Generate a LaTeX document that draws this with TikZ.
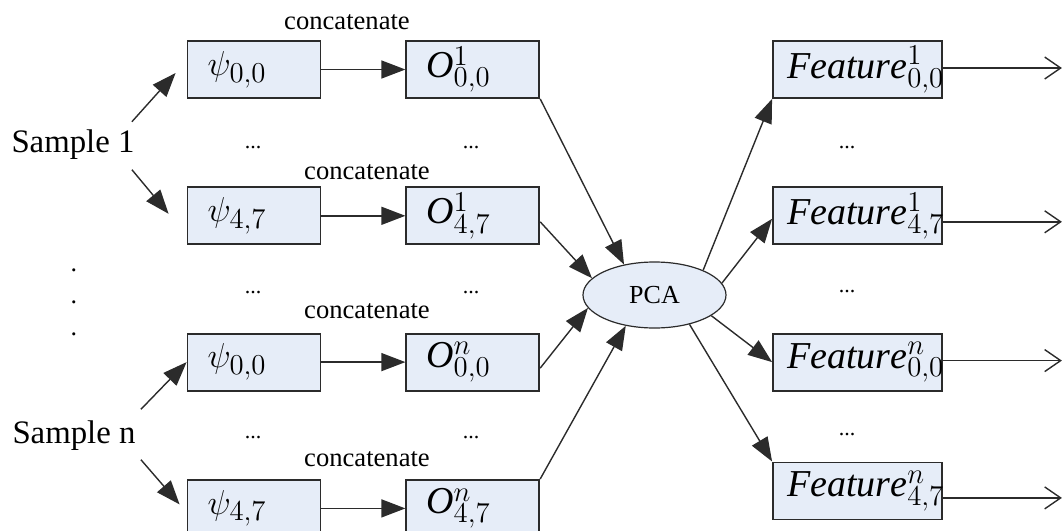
\documentclass[tikz,border=0pt]{standalone}
\usepackage{fontspec}
\setmainfont{Liberation Serif}
\usepackage{tikz}
\usetikzlibrary{arrows.meta,positioning,calc,shapes.geometric}
\definecolor{BoxFill}{HTML}{E6EDF8}
\definecolor{EdgeGray}{HTML}{2B2B2B}

\begin{document}
\begin{tikzpicture}[x=1pt,y=1pt,node distance=43.75pt and 42pt,
 box/.style={draw=EdgeGray,fill=BoxFill,line width=0.9pt,minimum height=28.5pt,
             inner xsep=10pt,inner ysep=0pt,text width=46.5pt,align=left,
             font=\fontsize{19}{22}\selectfont},
 featbox/.style={box,inner xsep=7pt,text width=70.5pt},
 oval/.style={ellipse,draw=EdgeGray,fill=BoxFill,line width=0.6pt,
             minimum width=71.5pt,minimum height=33pt,inner sep=0pt,
             font=\fontsize{13}{15}\selectfont},
 arw/.style={-{Triangle[length=12pt,width=9pt]},draw=EdgeGray,line width=0.7pt},
 outarw/.style={-{Straight Barb[length=8pt,width=11pt]},draw=EdgeGray,line width=0.7pt},
 smp/.style={font=\fontsize{16.4}{19}\selectfont,inner sep=0pt},
 lbl/.style={font=\fontsize{13.3}{15}\selectfont,inner sep=0pt},
 dots/.style={font=\fontsize{11}{13}\selectfont,inner sep=0pt}]
\useasboundingbox (0,0) rectangle (531,-265.5);

% samples
\node[smp] (s1) at (36.5,-72.5) {Sample 1};
\node[smp] (sn) at (37,-217.8) {Sample n};
\node[align=center,inner sep=0pt,font=\fontsize{13}{16}\selectfont] (vd) at (37,-151) {.\\.\\.};

% filter responses and concatenated vectors
\node[box] (p1) at (127,-34.75) {$\psi_{0,0}$};
\node[box,right=of p1] (o1) {$\mathit{O}^{1}_{0,0}$};
\node[box,below=of p1] (p2) {$\psi_{4,7}$};
\node[box,right=of p2] (o2) {$\mathit{O}^{1}_{4,7}$};
\node[box,below=of p2] (p3) {$\psi_{0,0}$};
\node[box,right=of p3] (o3) {$\mathit{O}^{n}_{0,0}$};
\node[box,below=of p3] (p4) {$\psi_{4,7}$};
\node[box,right=of p4] (o4) {$\mathit{O}^{n}_{4,7}$};

\node[lbl] (c1) at (173.5,-11) {concatenate};
\node[lbl] (c2) at (183.5,-86) {concatenate};
\node[lbl] (c3) at (183.5,-155.8) {concatenate};
\node[lbl] (c4) at (183.5,-229.5) {concatenate};

\node[dots] (dp1) at (126.5,-74) {...};
\node[dots] (dp2) at (126.5,-146.25) {...};
\node[dots] (dp3) at (126.5,-219) {...};
\node[dots] (do1) at (235.5,-74) {...};
\node[dots] (do2) at (235.5,-146.25) {...};
\node[dots] (do3) at (235.5,-219) {...};

% PCA and features
\node[oval] (pca) at (327.25,-147.5) {PCA};
\node[featbox] (f1) at (428.75,-34.75) {$\mathit{Feature}^{1}_{0,0}$};
\node[featbox,below=of f1] (f2) {$\mathit{Feature}^{1}_{4,7}$};
\node[featbox,below=of f2] (f3) {$\mathit{Feature}^{n}_{0,0}$};
\node[featbox,below=35pt of f3] (f4) {$\mathit{Feature}^{n}_{4,7}$};

\node[dots] (df1) at (423.5,-74) {...};
\node[dots] (df2) at (423.5,-146) {...};
\node[dots] (df3) at (423.5,-217.5) {...};

\coordinate[right=59.5pt of f1] (e1);
\coordinate[right=59.5pt of f2,yshift=-3pt] (e2);
\coordinate[right=59.5pt of f3] (e3);
\coordinate[right=59.5pt of f4,yshift=-3.5pt] (e4);

\draw[arw] ([xshift=-1.5pt,yshift=4pt]s1.north east) -- ([xshift=-5.5pt,yshift=-1.75pt]p1.west);
\draw[arw] ([xshift=-1.5pt,yshift=-4.7pt]s1.south east) -- ([xshift=-9pt,yshift=1pt]p2.west);
\draw[arw] ([xshift=2.5pt,yshift=5.5pt]sn.north east) -- (p3.west);
\draw[arw] ([xshift=2.5pt,yshift=-4.4pt]sn.south east) -- ([xshift=-3.5pt,yshift=2pt]p4.west);

\draw[arw] (p1) -- (o1);
\draw[arw] (p2) -- (o2);
\draw[arw] (p3) -- (o3);
\draw[arw] (p4) -- (o4);

\draw[arw] (o1.south east) -- (pca.135);
\draw[arw] ([yshift=-3pt]o2.east) -- (pca.165);
\draw[arw] ([yshift=-3pt]o3.east) -- (pca.191);
\draw[arw] (o4.north east) -- (pca.227);

\draw[arw] (pca.27) -- (f1.south west);
\draw[arw] (pca.10) -- ([yshift=-1.5pt]f2.west);
\draw[arw] (pca.-20) -- (f3.west);
\draw[arw] (pca.-40) -- (f4.north west);

\draw[outarw] ([yshift=0.75pt]f1.east) -- ([yshift=0.75pt]e1);
\draw[outarw] ([yshift=-3pt]f2.east) -- (e2);
\draw[outarw] ([yshift=0.75pt]f3.east) -- ([yshift=0.75pt]e3);
\draw[outarw] ([yshift=-3.5pt]f4.east) -- (e4);
\end{tikzpicture}
\end{document}
